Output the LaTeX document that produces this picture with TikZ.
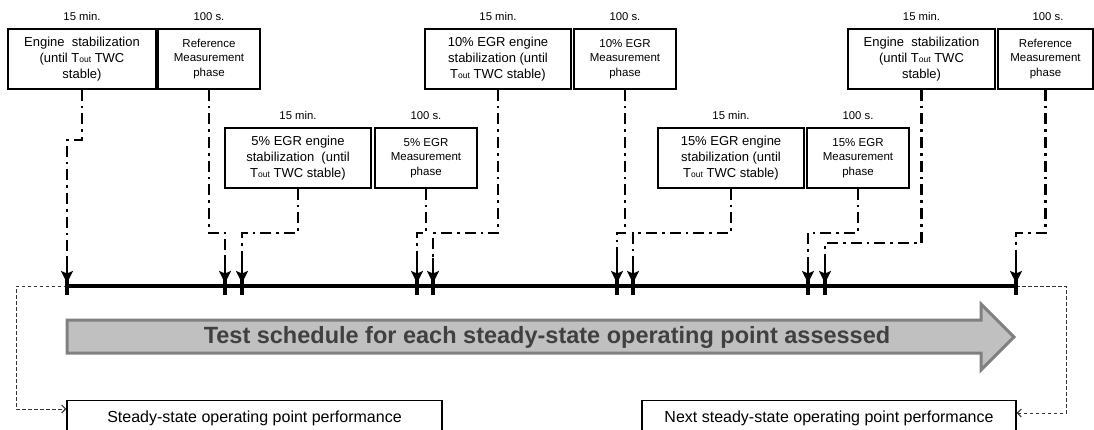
\documentclass[tikz,border=0pt]{standalone}
\usepackage{fontspec}
\setmainfont{Liberation Sans}
\usetikzlibrary{arrows.meta,calc}
\definecolor{arrfill}{HTML}{C0C0C0}
\definecolor{arredge}{HTML}{808080}
\definecolor{arrtext}{HTML}{404040}
\definecolor{dashgray}{HTML}{333333}
\newcommand{\Tsub}{T{\fontsize{8.5}{8.5}\selectfont out}}
\begin{document}
\begin{tikzpicture}[x=1pt,y=-1pt,
 stabbox/.style={draw,line width=1.2pt,inner sep=0pt,minimum height=60pt,align=center,font=\fontsize{13}{16}\selectfont},
 measbox/.style={draw,line width=1.2pt,inner sep=0pt,minimum height=60pt,minimum width=102pt,align=center,font=\fontsize{11.5}{14.5}\selectfont},
 durlabel/.style={anchor=base,inner sep=0pt,font=\fontsize{11.3}{13}\selectfont},
 conn/.style={line width=2.7pt,dash pattern=on 11pt off 5pt on 2.7pt off 5pt},
 arrowstem/.style={line width=2.7pt,-{Stealth[length=12pt,width=12pt,inset=2.5pt]}},
 tickmark/.style={line width=4pt},
 loopconn/.style={draw=dashgray,line width=1pt,dash pattern=on 3.5pt off 2.5pt,-{Straight Barb[length=4pt,width=8pt]}},
 perfbox/.style={draw,line width=1.2pt,inner sep=0pt,anchor=north,text height=21.7pt,text depth=20pt,font=\fontsize{16}{19}\selectfont}
]
\useasboundingbox (0,0) rectangle (1094,430);
\clip (0,0) rectangle (1094,430);

% big grey arrow
\draw[line width=3pt,draw=arredge,fill=arrfill,line join=miter] (67,320) -- (981,320) -- (981,304) -- (1014,337) -- (981,370) -- (981,353) -- (67,353) -- cycle;
\node[anchor=base,text=arrtext,font=\bfseries\fontsize{23.5}{26}\selectfont,inner sep=0pt] (title) at (547,343) {Test schedule for each steady-state operating point assessed};

% boxes, top row
\node[stabbox,minimum width=148pt] (b1) at (82,59) {Engine~~stabilization\\(until \Tsub{} TWC\\stable)};
\node[measbox] (b2) at (209,59) {Reference\\Measurement\\phase};
\node[stabbox,minimum width=146pt] (b5) at (498,59) {10\% EGR engine\\stabilization (until\\\Tsub{} TWC stable)};
\node[measbox] (b6) at (625,59) {10\% EGR\\Measurement\\phase};
\node[stabbox,minimum width=147pt] (b9) at (921.5,59) {Engine~~stabilization\\(until \Tsub{} TWC\\stable)};
\node[measbox,minimum width=95pt] (b10) at (1045.5,59) {Reference\\Measurement\\phase};
% boxes, second row
\node[stabbox,minimum width=146pt] (b3) at (298,158) {5\% EGR engine\\stabilization~~(until\\\Tsub{} TWC stable)};
\node[measbox] (b4) at (426,158) {5\% EGR\\Measurement\\phase};
\node[stabbox,minimum width=146pt] (b7) at (731,158) {15\% EGR engine\\stabilization (until\\\Tsub{} TWC stable)};
\node[measbox] (b8) at (858,158) {15\% EGR\\Measurement\\phase};

% duration labels
\node[durlabel] (d1) at ($(b1.north)+(0,-8)$) {15 min.};
\node[durlabel] (d2) at ($(b2.north)+(0,-8)$) {100 s.};
\node[durlabel] (d3) at ($(b3.north)+(0,-8)$) {15 min.};
\node[durlabel] (d4) at ($(b4.north)+(0,-8)$) {100 s.};
\node[durlabel] (d5) at ($(b5.north)+(0,-8)$) {15 min.};
\node[durlabel] (d6) at ($(b6.north)+(0,-8)$) {100 s.};
\node[durlabel] (d7) at ($(b7.north)+(0,-8)$) {15 min.};
\node[durlabel] (d8) at ($(b8.north)+(0,-8)$) {100 s.};
\node[durlabel] (d9) at ($(b9.north)+(0,-8)$) {15 min.};
\node[durlabel] (d10) at (1048,21) {100 s.};

% performance boxes
\node[perfbox,minimum width=375pt] (nb1) at (254.5,400) {Steady-state operating point performance};
\node[perfbox,minimum width=374pt] (nb2) at (829,400) {Next steady-state operating point performance};

% timeline
\coordinate (tlstart) at (67,286);
\coordinate (tlend) at (1016,286);
\draw[loopconn] (tlstart) -| (16,409) -- (nb1.west |- 0,409);
\draw[loopconn] (tlend) -| (1066,413) -- (nb2.east |- 0,413);
\draw[line width=4.5pt] (tlstart) -- (tlend);
\foreach \x [count=\i] in {67,225,242,417,433,617,633,808,825,1016} {
  \coordinate (s\i) at (\x,258);
  \coordinate (t\i) at (\x,283);
  \draw[tickmark] (\x,276) -- (\x,295);
}

% connectors
\draw[conn] (b1.south) -- (b1.south |- 0,140) -| (s1);
\draw[conn] (b2.south) -- (b2.south |- 0,233) -| (s2);
\draw[conn] (b3.south) -- (b3.south |- 0,233) -| (s3);
\draw[conn] (b4.south) -- (b4.south |- 0,233) -| (s4);
\draw[conn] (b5.south) -- (b5.south |- 0,233) -| (s5);
\draw[conn] (b6.south) -- (b6.south |- 0,233) -| (s6);
\draw[conn] (b7.south) -- (b7.south |- 0,233) -| (s7);
\draw[conn] (b8.south) -- (b8.south |- 0,233) -| (s8);
\draw[conn] (b9.south) -- (b9.south |- 0,243) -| (s9);
\draw[conn] (b10.south) -- (b10.south |- 0,233) -| (s10);
\foreach \i in {1,...,10} {
  \draw[arrowstem] (s\i) -- (t\i);
}
\end{tikzpicture}
\end{document}
